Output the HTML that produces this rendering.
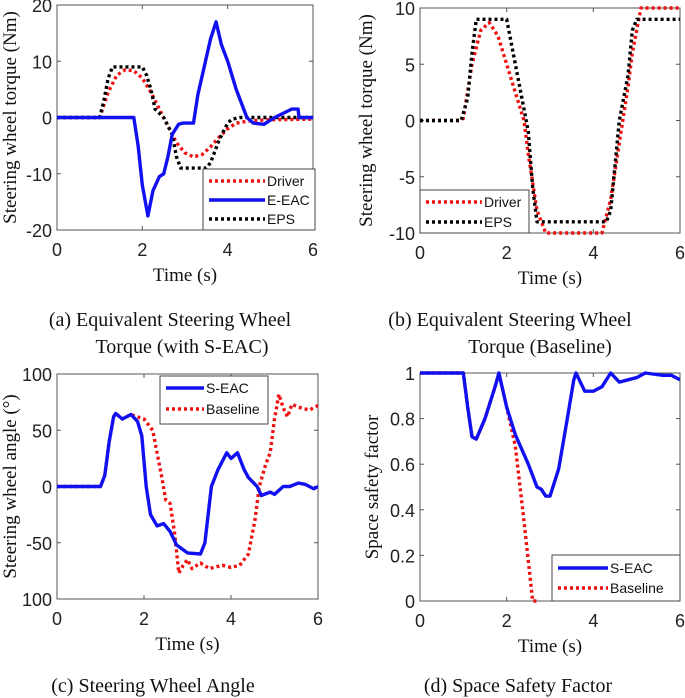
<!DOCTYPE html>
<html><head><meta charset="utf-8">
<style>
html,body{margin:0;padding:0;background:#fff;}
svg{display:block;}
.tk{font-family:"Liberation Sans",sans-serif;font-size:18px;fill:#222;}
.lab{font-family:"Liberation Serif",serif;font-size:19px;fill:#111;}
.cap{font-family:"Liberation Serif",serif;font-size:20px;fill:#111;}
.lg{font-family:"Liberation Sans",sans-serif;font-size:14px;fill:#111;}
</style></head>
<body>
<svg id="chart" width="685" height="698" xmlns="http://www.w3.org/2000/svg"></svg>
<script>
// Panel (a)
const aT_driver=[0,1.0,1.2,1.4,1.6,1.8,2.0,2.2,2.4,2.6,2.8,3.0,3.2,3.4,3.6,3.8,4.0,4.2,4.5,5,6];
const aV_driver=[0,0,4.5,7.5,8.5,8.3,7,4.5,1.5,-1.5,-4.5,-6.3,-7,-6.6,-5.2,-3.5,-2,-1,-0.6,-0.4,-0.3];
const aT_eps=[0,1.0,1.1,1.2,1.3,2.0,2.1,2.2,2.3,2.5,2.7,2.8,2.9,3.5,3.6,3.7,3.8,4.0,4.1,4.3,6];
const aV_eps=[0,0,3,7,9,9,7.5,5,1.5,0,-3,-7,-9,-9,-8,-6,-4,-1,-0.3,0,0];
const aT_eac=[0,1.8,1.9,2.0,2.13,2.25,2.4,2.5,2.6,2.7,2.85,2.95,3.2,3.3,3.45,3.6,3.73,3.85,4.0,4.2,4.45,4.6,4.85,5.1,5.5,5.65,5.67,6];
const aV_eac=[0,0,-5,-12,-17.5,-13,-10.5,-10,-7,-3,-1.2,-1,-1,4,9,14,17,13,10,5,0,-1,-1.2,0,1.5,1.5,0,0];
// Panel (b)
const bT_driver=[0,0.9,1.0,1.2,1.4,1.6,1.8,2.0,2.2,2.4,2.5,2.7,2.9,4.2,4.4,4.6,4.8,4.9,5.1,6];
const bV_driver=[0,0,0.2,5,8,8.7,7.5,5,2.5,0,-3,-8,-10,-10,-7,-2,3,6,10,10];
const bT_eps=[0,0.95,1.1,1.2,1.3,2.0,2.1,2.3,2.4,2.5,2.6,2.7,4.3,4.4,4.5,4.6,4.8,4.9,5.0,6];
const bV_eps=[0,0,2,6,9,9,7,3,1,-1,-6,-9,-9,-8,-4,0,4,8,9,9];
// Panel (c)
const cT_seac=[0,1.0,1.1,1.2,1.3,1.35,1.5,1.7,1.85,1.95,2.05,2.15,2.3,2.45,2.6,2.75,3.0,3.3,3.4,3.55,3.7,3.9,4.0,4.15,4.3,4.4,4.6,4.7,4.9,5.0,5.2,5.35,5.55,5.7,5.9,6];
const cV_seac=[0,0,10,40,62,65,60,64,58,45,0,-25,-35,-33,-40,-52,-59,-60,-50,0,15,30,25,30,15,8,0,-8,-5,-7,0,0,3,2,-2,0];
const cT_base=[0,1.0,1.1,1.2,1.3,1.35,1.5,1.7,1.85,2.0,2.2,2.4,2.5,2.6,2.7,2.8,2.9,3.0,3.1,3.3,3.5,3.8,4.0,4.2,4.4,4.55,4.65,4.8,4.9,5.0,5.1,5.2,5.3,5.4,5.6,5.8,6.0];
const cV_base=[0,0,10,40,62,65,60,64,62,60,50,10,-12,-15,-40,-77,-70,-65,-73,-68,-73,-70,-72,-70,-60,-30,0,20,30,60,82,70,62,73,70,68,72];
// Panel (d)
const dT_seac=[0,1.0,1.1,1.2,1.3,1.5,1.75,1.82,2.0,2.2,2.5,2.7,2.8,2.9,3.0,3.2,3.4,3.55,3.6,3.8,4.0,4.2,4.4,4.6,4.8,5.0,5.2,5.6,5.8,6];
const dV_seac=[1,1,0.85,0.72,0.71,0.8,0.95,1.0,0.85,0.73,0.6,0.5,0.49,0.46,0.46,0.58,0.8,0.97,1.0,0.92,0.92,0.94,1.0,0.96,0.97,0.98,1.0,0.99,0.99,0.97];
const dT_base=[0,1.0,1.1,1.2,1.3,1.5,1.75,1.82,2.0,2.2,2.4,2.6,2.75];
const dV_base=[1,1,0.85,0.72,0.71,0.8,0.95,1.0,0.85,0.68,0.35,0,0];
const xTicks=[0,2,4,6];

const NS="http://www.w3.org/2000/svg";
const svg=document.getElementById('chart');
function mk(tag,attrs,parent){const e=document.createElementNS(NS,tag);for(const k in attrs)e.setAttribute(k,attrs[k]);(parent||svg).appendChild(e);return e;}
function txt(s,x,y,cls,anchor,parent){const t=mk('text',{x:x,y:y,class:cls,'text-anchor':anchor||'middle'},parent);t.textContent=s;return t;}

function panel(p){
  const g=mk('g',{});
  
  
  const sx=v=>p.x0+(v-0)/6*(p.x1-p.x0);
  const sy=v=>p.y1-(v-p.ymin)/(p.ymax-p.ymin)*(p.y1-p.y0);
  const fr=mk('rect',{x:p.x0,y:p.y0,width:p.x1-p.x0,height:p.y1-p.y0,fill:'#fff',stroke:'#555','stroke-width':1},g);
  
  
  xTicks.forEach(v=>{
    mk('line',{x1:sx(v),x2:sx(v),y1:p.y1,y2:p.y1-4,stroke:'#555'},g);
    mk('line',{x1:sx(v),x2:sx(v),y1:p.y0,y2:p.y0+4,stroke:'#555'},g);
    const t=txt(String(v),sx(v),p.y1+26,'tk','middle',g);
    
    
  });
  p.yTicks.forEach((v,i)=>{
    mk('line',{x1:p.x0,x2:p.x0+4,y1:sy(v),y2:sy(v),stroke:'#555'},g);
    mk('line',{x1:p.x1,x2:p.x1-4,y1:sy(v),y2:sy(v),stroke:'#555'},g);
    const t=txt(p.yLabels[i],p.x0-5,sy(v)+7,'tk','end',g);
    
    
  });
  const xt=txt('Time (s)',(p.x0+p.x1)/2,p.y1+51,'lab','middle',g);
  
  
  const yt=txt(p.ytitle,0,0,'lab','middle',g);
  yt.setAttribute('transform','translate('+p.ytx+','+((p.y0+p.y1)/2)+') rotate(-90)');
  
  
  const clip=mk('clipPath',{id:'c'+p.name},g);
  mk('rect',{x:p.x0,y:p.y0-3,width:p.x1-p.x0,height:p.y1-p.y0+6},clip);
  p.series.forEach(s=>{
    const d=s.t.map((t,i)=>(i?'L':'M')+sx(t).toFixed(1)+','+sy(s.v[i]).toFixed(1)).join('');
    const pa=mk('path',{d:d,fill:'none',stroke:s.color,'stroke-width':s.dot?3.4:3.4,'stroke-dasharray':s.dot?'3,3':'none','stroke-linejoin':'round','clip-path':'url(#c'+p.name+')'},g);
    
    
  });
  const L=p.legend;
  const lg=mk('g',{},g);
  
  
  mk('rect',{x:L.x,y:L.y,width:L.w,height:L.h,fill:'#fff',stroke:'#444','stroke-width':1},lg);
  p.series.slice().sort((a,b)=>a.lo-b.lo).forEach((s,i)=>{
    const yy=L.y+L.pad+i*L.step;
    mk('line',{x1:L.x+6,x2:L.x+L.lw,y1:yy,y2:yy,stroke:s.color,'stroke-width':3.4,'stroke-dasharray':s.dot?'3,3':'none'},lg);
    const t=txt(s.label,L.x+L.lw+2,yy+5,'lg','start',lg);
    
    
  });
}

panel({name:'panel-a',x0:57,x1:313,y0:5,y1:230,ymin:-20,ymax:20,yTicks:[-20,-10,0,10,20],yLabels:['-20','-10','0','10','20'],ytitle:'Steering wheel torque (Nm)',ytx:16,
  series:[{id:'driver',label:'Driver',t:aT_driver,v:aV_driver,color:'#f01010',dot:true,lo:0},
          {id:'eps',label:'EPS',t:aT_eps,v:aV_eps,color:'#000',dot:true,lo:2},
          {id:'e-eac',label:'E-EAC',t:aT_eac,v:aV_eac,color:'#1010f0',dot:false,lo:1}],
  legend:{x:203,y:169,w:112,h:61,pad:12,step:19,lw:62}});
panel({name:'panel-b',x0:420,x1:680,y0:8,y1:233,ymin:-10,ymax:10,yTicks:[-10,-5,0,5,10],yLabels:['-10','-5','0','5','10'],ytitle:'Steering wheel torque (Nm)',ytx:372,
  series:[{id:'driver',label:'Driver',t:bT_driver,v:bV_driver,color:'#f01010',dot:true,lo:0},
          {id:'eps',label:'EPS',t:bT_eps,v:bV_eps,color:'#000',dot:true,lo:1}],
  legend:{x:420,y:190,w:109,h:43,pad:12,step:20,lw:62}});
panel({name:'panel-c',x0:57,x1:318,y0:374,y1:599,ymin:-100,ymax:100,yTicks:[-100,-50,0,50,100],yLabels:['100','-50','0','50','100'],ytitle:'Steering wheel angle (°)',ytx:16,
  series:[{id:'baseline',label:'Baseline',t:cT_base,v:cV_base,color:'#f01010',dot:true,lo:1},
          {id:'s-eac',label:'S-EAC',t:cT_seac,v:cV_seac,color:'#1010f0',dot:false,lo:0}],
  legend:{x:160,y:376,w:108,h:48,pad:12,step:21,lw:44}});
panel({name:'panel-d',x0:420,x1:680,y0:373,y1:601,ymin:0,ymax:1,yTicks:[0,0.2,0.4,0.6,0.8,1],yLabels:['0','0.2','0.4','0.6','0.8','1'],ytitle:'Space safety factor',ytx:378,
  series:[{id:'baseline',label:'Baseline',t:dT_base,v:dV_base,color:'#f01010',dot:true,lo:1},
          {id:'s-eac',label:'S-EAC',t:dT_seac,v:dV_seac,color:'#1010f0',dot:false,lo:0}],
  legend:{x:552,y:555,w:128,h:46,pad:13,step:20,lw:56}});

[['(a) Equivalent Steering Wheel',170,326],['Torque (with S-EAC)',182,353],
 ['(b) Equivalent Steering Wheel',510,326],['Torque (Baseline)',540,353],
 ['(c) Steering Wheel Angle',153,692],['(d) Space Safety Factor',518,692]].forEach(c=>{
  const t=txt(c[0],c[1],c[2],'cap','middle');
  
  
});
</script>
</body></html>
